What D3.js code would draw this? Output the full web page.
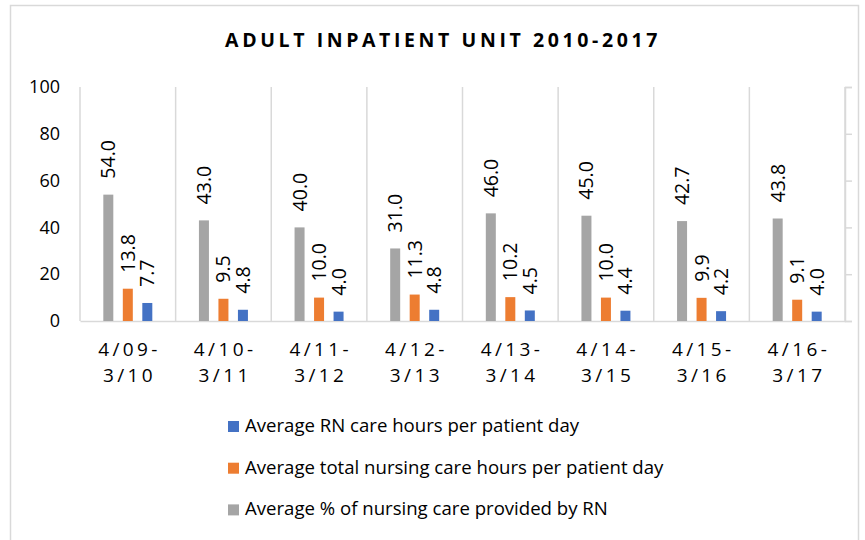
<!DOCTYPE html>
<html>
<head>
<meta charset="utf-8">
<style>
  body { margin: 0; background: #fff; }
  svg text { font-family: "Open Sans", "Noto Sans", sans-serif; fill: #000; }
</style>
</head>
<body>
<svg id="chart"></svg>

<script src="https://d3js.org/d3.v7.min.js"></script>
<script>

  var width = 865, height = 540;

  var categories = ["4/09-3/10", "4/10-3/11", "4/11-3/12", "4/12-3/13",
                    "4/13-3/14", "4/14-3/15", "4/15-3/16", "4/16-3/17"];

  var seriesNames = [
    "Average % of nursing care provided by RN",
    "Average total nursing care hours per patient day",
    "Average RN care hours per patient day"
  ];
  var pctByRN      = [54.0, 43.0, 40.0, 31.0, 46.0, 45.0, 42.7, 43.8];
  var totalHours   = [13.8, 9.5, 10.0, 11.3, 10.2, 10.0, 9.9, 9.1];
  var rnHours      = [7.7, 4.8, 4.0, 4.8, 4.5, 4.4, 4.2, 4.0];
  var yTicks       = [0, 20, 40, 60, 80, 100];

  var colors = ["#a5a5a5", "#ed7d31", "#4472c4"];
  var seriesValues = [pctByRN, totalHours, rnHours];

  var svg = d3.select("#chart")
    .attr("width", width)
    .attr("height", height);

  // chart border
  svg.append("rect")
    .attr("x", 10.5).attr("y", 5.5)
    .attr("width", 848).attr("height", 545)
    .attr("fill", "none")
    .attr("stroke", "#d9d9d9")
    .attr("stroke-width", 1.5);

  svg.append("text")
    .attr("x", 443)
    .attr("y", 47)
    .attr("text-anchor", "middle")
    .style("font-size", "19.5px")
    .style("font-weight", "bold")
    .style("letter-spacing", "3.6px")
    .text("ADULT INPATIENT UNIT 2010-2017");

  var x0 = d3.scaleBand()
    .domain(categories)
    .range([80, 845])
    .padding(0);

  var x1 = d3.scaleBand()
    .domain(d3.range(seriesNames.length))
    .range([x0.bandwidth() / 2 - 29.25, x0.bandwidth() / 2 + 29.25])
    .paddingInner(0.487)
    .paddingOuter(0.2435);

  var y = d3.scaleLinear()
    .domain([0, 100])
    .range([321, 87]);

  // vertical gridlines at category boundaries
  var bounds = categories.map(function(d) { return x0(d); }).concat([x0.range()[1]]);
  svg.selectAll(".vgrid")
    .data(bounds)
    .enter().append("line")
    .attr("class", "vgrid")
    .attr("x1", function(d) { return d; })
    .attr("x2", function(d) { return d; })
    .attr("y1", y(100))
    .attr("y2", y(0))
    .attr("stroke", "#d9d9d9")
    .attr("stroke-width", 1.5);

  // right axis with ticks only
  var rightAxis = svg.append("g")
    .attr("transform", "translate(" + x0.range()[1] + ",0)")
    .call(d3.axisRight(y).tickValues(yTicks).tickSize(7).tickFormat(""));
  rightAxis.selectAll("line, path").attr("stroke", "#d9d9d9").attr("stroke-width", 1.5);

  // left axis labels
  var leftAxis = svg.append("g")
    .attr("transform", "translate(60,0)")
    .call(d3.axisLeft(y).tickValues(yTicks).tickSize(0).tickPadding(0));
  leftAxis.select(".domain").remove();
  leftAxis.selectAll("text")
    .style("font-size", "18px")
    .style("font-family", "'Open Sans', sans-serif")
    .attr("fill", "#000");

  // bottom axis
  var bottomAxis = svg.append("g")
    .attr("transform", "translate(0," + y(0) + ")")
    .call(d3.axisBottom(x0).tickSize(0).tickPadding(0));
  bottomAxis.select(".domain").attr("stroke", "#d9d9d9").attr("stroke-width", 1.5);
  bottomAxis.selectAll("text").remove();
  bottomAxis.selectAll(".tick").each(function(d) {
    var parts = d.split("-");
    var t = d3.select(this).append("text")
      .attr("text-anchor", "middle")
      .attr("fill", "#000")
      .style("font-size", "19px")
      .style("letter-spacing", "3.4px")
      .style("font-family", "'Open Sans', sans-serif");
    t.append("tspan").attr("x", 1.7).attr("y", 35).text(parts[0] + "-");
    t.append("tspan").attr("x", 1.7).attr("y", 61).text(parts[1]);
  });

  // bars
  var groups = svg.selectAll(".cat")
    .data(categories)
    .enter().append("g")
    .attr("class", "cat")
    .attr("transform", function(d) { return "translate(" + x0(d) + ",0)"; });

  groups.each(function(cat, ci) {
    var g = d3.select(this);
    var rows = seriesValues.map(function(vals, si) { return {s: si, v: vals[ci]}; });

    g.selectAll("rect")
      .data(rows)
      .enter().append("rect")
      .attr("x", function(d) { return x1(d.s); })
      .attr("width", x1.bandwidth())
      .attr("y", function(d) { return y(d.v); })
      .attr("height", function(d) { return y(0) - y(d.v); })
      .attr("fill", function(d) { return colors[d.s]; });

    g.selectAll(".vlabel")
      .data(rows)
      .enter().append("text")
      .attr("class", "vlabel")
      .attr("transform", function(d) {
        return "translate(" + (x1(d.s) + x1.bandwidth() / 2) + "," + (y(d.v) - 16) + ") rotate(-90)";
      })
      .attr("dy", "0.36em")
      .attr("text-anchor", "start")
      .style("font-size", "19.5px")
      .text(function(d) { return d.v.toFixed(1); });
  });

  // legend (reverse order like the reference)
  var legendOrder = [2, 1, 0];
  var legend = svg.selectAll(".legend")
    .data(legendOrder)
    .enter().append("g")
    .attr("class", "legend")
    .attr("transform", function(d, i) { return "translate(228," + (432 + i * 41.7) + ")"; });

  legend.append("rect")
    .attr("x", 0).attr("y", -11)
    .attr("width", 11).attr("height", 11)
    .attr("fill", function(d) { return colors[d]; });

  legend.append("text")
    .attr("x", 17)
    .attr("y", 0)
    .style("font-size", "18.6px")
    .text(function(d) { return seriesNames[d]; });

</script>
</body>
</html>
